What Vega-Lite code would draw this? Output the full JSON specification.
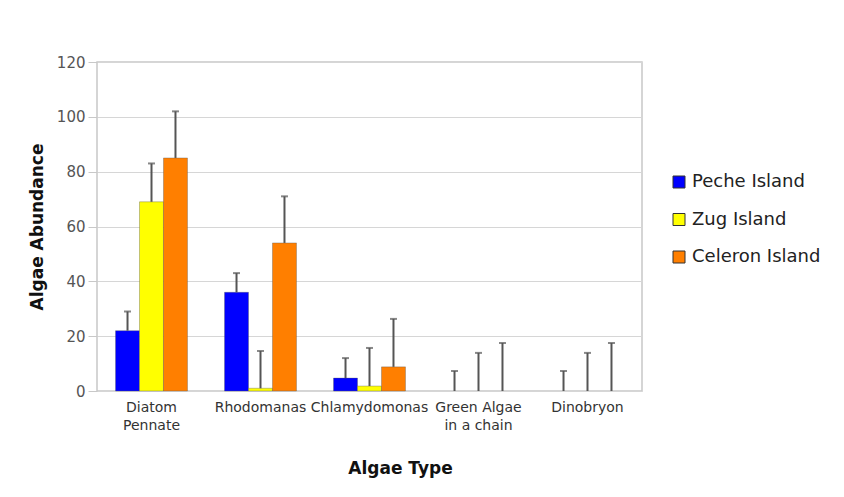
{
  "$schema": "https://vega.github.io/schema/vega-lite/v6.json",
  "width": 545,
  "height": 329,
  "autosize": {"type": "none"},
  "padding": {"left": 97, "top": 62, "right": 202, "bottom": 106},
  "background": "white",
  "data": {
    "values": [
      {"type": "Diatom Pennate", "site": "Peche Island", "value": 22, "upper": 29},
      {"type": "Diatom Pennate", "site": "Zug Island", "value": 69, "upper": 83},
      {"type": "Diatom Pennate", "site": "Celeron Island", "value": 85, "upper": 102},
      {"type": "Rhodomanas", "site": "Peche Island", "value": 36, "upper": 43},
      {"type": "Rhodomanas", "site": "Zug Island", "value": 1, "upper": 14.6},
      {"type": "Rhodomanas", "site": "Celeron Island", "value": 54, "upper": 71},
      {"type": "Chlamydomonas", "site": "Peche Island", "value": 4.7, "upper": 12},
      {"type": "Chlamydomonas", "site": "Zug Island", "value": 1.8, "upper": 15.7},
      {"type": "Chlamydomonas", "site": "Celeron Island", "value": 8.8, "upper": 26.3},
      {"type": "Green Algae in a chain", "site": "Peche Island", "value": 0, "upper": 7.3},
      {"type": "Green Algae in a chain", "site": "Zug Island", "value": 0, "upper": 13.9},
      {"type": "Green Algae in a chain", "site": "Celeron Island", "value": 0, "upper": 17.5},
      {"type": "Dinobryon", "site": "Peche Island", "value": 0, "upper": 7.3},
      {"type": "Dinobryon", "site": "Zug Island", "value": 0, "upper": 13.9},
      {"type": "Dinobryon", "site": "Celeron Island", "value": 0, "upper": 17.5}
    ]
  },
  "encoding": {
    "x": {
      "field": "type",
      "type": "nominal",
      "sort": ["Diatom Pennate", "Rhodomanas", "Chlamydomonas", "Green Algae in a chain", "Dinobryon"],
      "scale": {"paddingInner": 0.34, "paddingOuter": 0.17},
      "axis": {
        "title": "Algae Type",
        "labelAngle": 0,
        "labelFontSize": 14,
        "labelColor": "#333",
        "labelPadding": 9,
        "labelLineHeight": 18,
        "labelBaseline": "top",
        "labelExpr": "datum.value == 'Diatom Pennate' ? ['Diatom', 'Pennate'] : datum.value == 'Green Algae in a chain' ? ['Green Algae', 'in a chain'] : datum.value",
        "ticks": false,
        "domain": false,
        "titleFontSize": 17,
        "titleFontWeight": "bold",
        "titleColor": "#111",
        "titleX": 303,
        "titleY": 77,
        "titleBaseline": "middle"
      }
    },
    "xOffset": {
      "field": "site",
      "type": "nominal",
      "sort": ["Peche Island", "Zug Island", "Celeron Island"],
      "scale": {"paddingInner": 0, "paddingOuter": 0}
    }
  },
  "layer": [
    {
      "mark": {"type": "bar", "stroke": "#555", "strokeWidth": 0.6},
      "encoding": {
        "y": {
          "field": "value",
          "type": "quantitative",
          "scale": {"domain": [0, 120], "nice": false},
          "axis": {
            "title": "Algae Abundance",
            "values": [0, 20, 40, 60, 80, 100, 120],
            "labelFontSize": 15,
            "labelColor": "#555",
            "labelPadding": 3,
            "tickSize": 9,
            "tickColor": "#c8c8c8",
            "gridColor": "#d6d6d6",
            "domain": false,
            "titleFontSize": 17,
            "titleFontWeight": "bold",
            "titleColor": "#111",
            "titlePadding": 10
          }
        },
        "strokeOpacity": {
          "condition": {"test": "datum.value == 0", "value": 0},
          "value": 0.6
        },
        "color": {
          "field": "site",
          "type": "nominal",
          "sort": ["Peche Island", "Zug Island", "Celeron Island"],
          "scale": {
            "domain": ["Peche Island", "Zug Island", "Celeron Island"],
            "range": ["#0000ff", "#ffff00", "#ff7f00"]
          },
          "legend": {
            "title": null,
            "orient": "none",
            "legendX": 573,
            "legendY": 111,
            "padding": 0,
            "symbolType": "square",
            "symbolSize": 144,
            "symbolStrokeColor": "#333",
            "symbolStrokeWidth": 1,
            "labelFontSize": 18,
            "labelColor": "#222",
            "labelOffset": 4,
            "rowPadding": 19.5
          }
        }
      }
    },
    {
      "mark": {"type": "rule", "color": "#555", "strokeWidth": 2},
      "encoding": {
        "y": {"field": "value", "type": "quantitative"},
        "y2": {"field": "upper"}
      }
    },
    {
      "mark": {"type": "tick", "color": "#555", "thickness": 2, "size": 7, "orient": "horizontal"},
      "encoding": {
        "y": {"field": "upper", "type": "quantitative"}
      }
    }
  ],
  "config": {
    "font": "DejaVu Sans",
    "view": {"stroke": "#c8c8c8", "strokeWidth": 1.5}
  }
}
